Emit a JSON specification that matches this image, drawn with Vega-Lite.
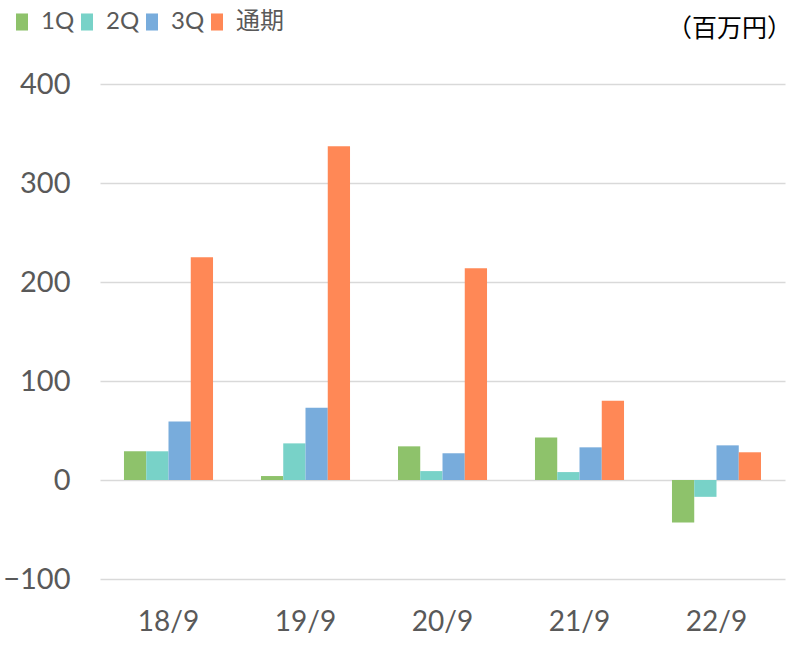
{
  "$schema": "https://vega.github.io/schema/vega-lite/v6.json",
  "autosize": "none",
  "width": 685,
  "height": 495,
  "padding": {"left": 100, "top": 84, "right": 20, "bottom": 72},
  "background": "white",
  "title": {
    "text": "（百万円）",
    "anchor": "end",
    "frame": "group",
    "offset": -32,
    "dx": 7,
    "fontSize": 25,
    "fontWeight": "normal",
    "font": "Noto Sans CJK JP",
    "color": "#000000"
  },
  "data": {
    "values": [
      {"year": "18/9", "q": "1Q", "v": 29},
      {"year": "18/9", "q": "2Q", "v": 29},
      {"year": "18/9", "q": "3Q", "v": 59},
      {"year": "18/9", "q": "通期", "v": 225},
      {"year": "19/9", "q": "1Q", "v": 4},
      {"year": "19/9", "q": "2Q", "v": 37},
      {"year": "19/9", "q": "3Q", "v": 73},
      {"year": "19/9", "q": "通期", "v": 337},
      {"year": "20/9", "q": "1Q", "v": 34},
      {"year": "20/9", "q": "2Q", "v": 9},
      {"year": "20/9", "q": "3Q", "v": 27},
      {"year": "20/9", "q": "通期", "v": 214},
      {"year": "21/9", "q": "1Q", "v": 43},
      {"year": "21/9", "q": "2Q", "v": 8},
      {"year": "21/9", "q": "3Q", "v": 33},
      {"year": "21/9", "q": "通期", "v": 80},
      {"year": "22/9", "q": "1Q", "v": -43},
      {"year": "22/9", "q": "2Q", "v": -17},
      {"year": "22/9", "q": "3Q", "v": 35},
      {"year": "22/9", "q": "通期", "v": 28}
    ]
  },
  "mark": {"type": "bar"},
  "encoding": {
    "x": {
      "field": "year",
      "type": "nominal",
      "title": null,
      "scale": {"paddingInner": 0.35, "paddingOuter": 0.175},
      "axis": {
        "domain": false,
        "ticks": false,
        "labelAngle": 0,
        "labelFontSize": 28,
        "labelPadding": 29,
        "labelColor": "#595959",
        "labelFont": "Lato"
      }
    },
    "xOffset": {"field": "q", "type": "nominal", "scale": {"paddingInner": 0, "paddingOuter": 0}},
    "y": {
      "field": "v",
      "type": "quantitative",
      "title": null,
      "scale": {"domain": [-100, 400], "nice": false},
      "axis": {
        "values": [-100, 0, 100, 200, 300, 400],
        "domain": false,
        "ticks": false,
        "labelFontSize": 29,
        "labelPadding": 30,
        "labelColor": "#595959",
        "labelFont": "Lato",
        "gridColor": "#d9d9d9",
        "gridWidth": 1.3
      }
    },
    "color": {
      "field": "q",
      "type": "nominal",
      "title": null,
      "scale": {
        "domain": ["1Q", "2Q", "3Q", "通期"],
        "range": ["#8EC26B", "#78D2C8", "#78ACDC", "#FF8856"]
      },
      "legend": {
        "orient": "none",
        "direction": "horizontal",
        "legendX": -90,
        "legendY": -74,
        "symbolType": "M-1,-1.42H1V1.42H-1Z",
        "symbolSize": 144,
        "symbolStrokeWidth": 0,
        "symbolOpacity": 1,
        "labelFontSize": 24,
        "labelColor": "#595959",
        "labelFont": "Lato, Noto Sans CJK JP",
        "labelOffset": 7,
        "columnPadding": -8
      }
    }
  },
  "config": {
    "view": {"stroke": null}
  }
}
